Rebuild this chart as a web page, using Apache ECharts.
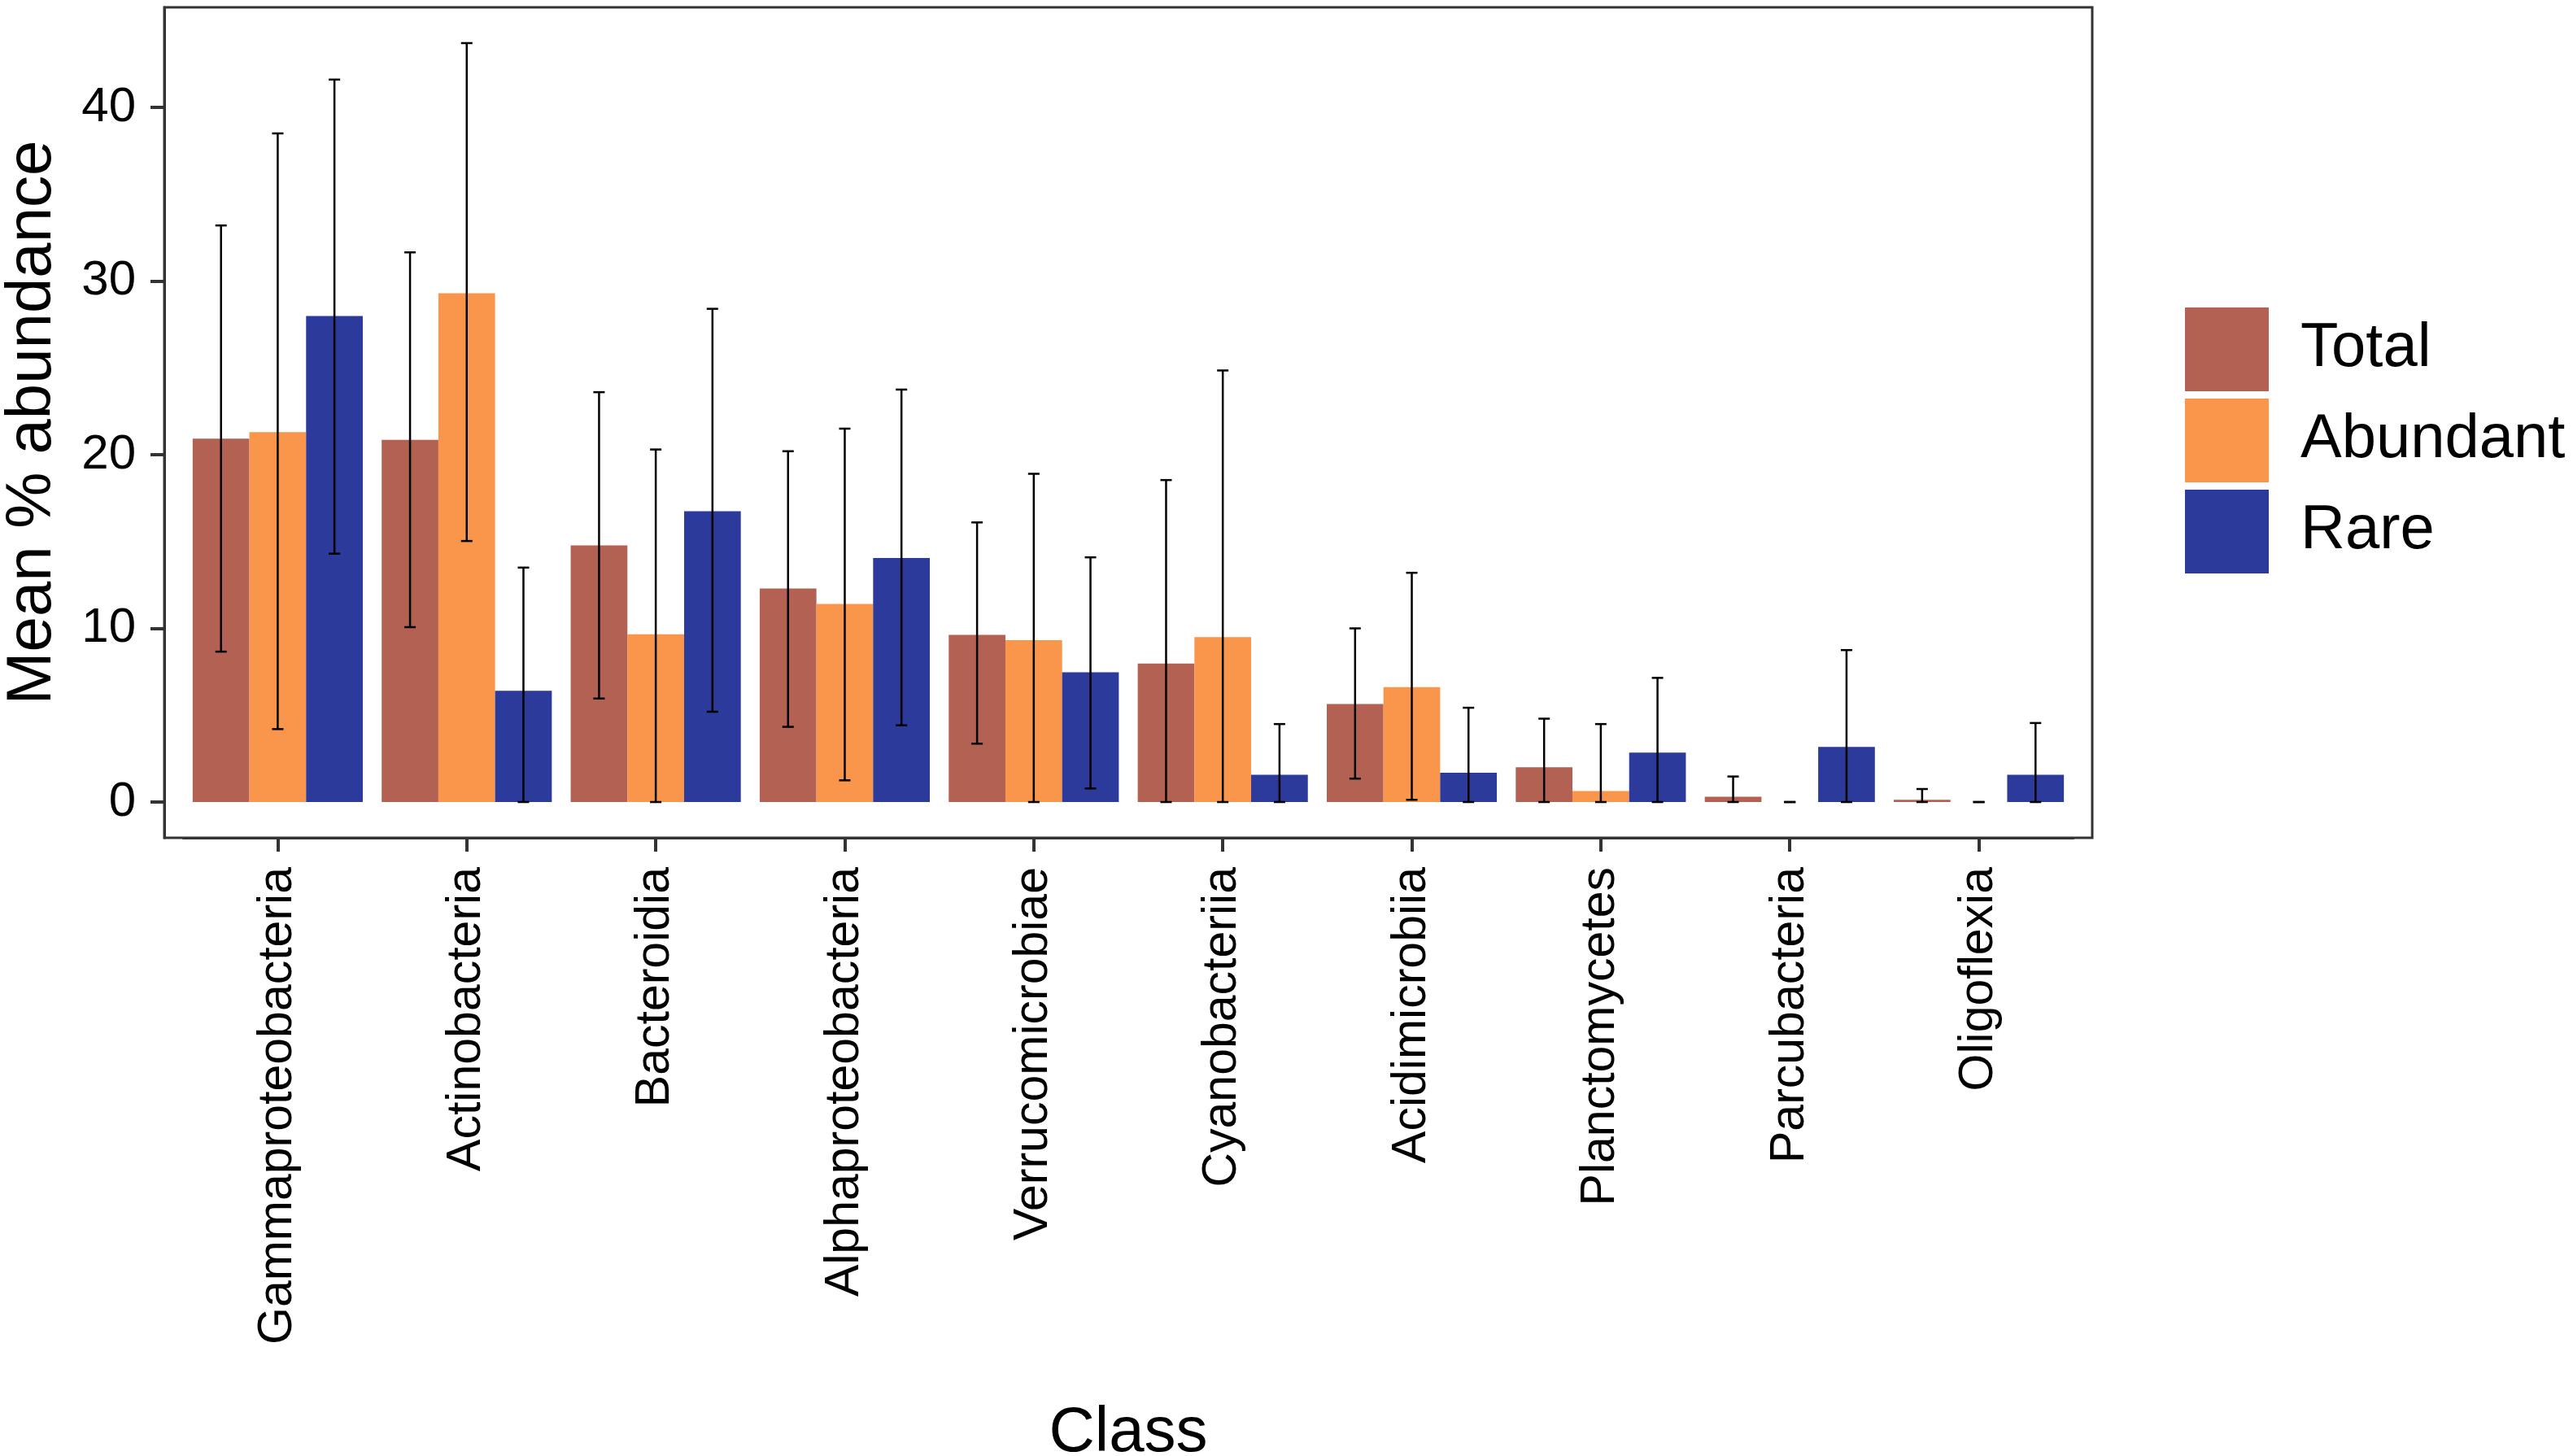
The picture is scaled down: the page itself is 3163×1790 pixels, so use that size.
<!DOCTYPE html>
<html>
<head>
<meta charset="utf-8">
<script src="https://cdn.jsdelivr.net/npm/echarts@6/dist/echarts.min.js"></script>
<style>
  html, body { margin: 0; padding: 0; background: #fff; }
  #chart { width: 3163px; height: 1790px; }
</style>
</head>
<body>
<div id="chart"></div>
<script>
// classes in plot order
var categories = ['Gammaproteobacteria', 'Actinobacteria', 'Bacteroidia', 'Alphaproteobacteria',
  'Verrucomicrobiae', 'Cyanobacteriia', 'Acidimicrobiia', 'Planctomycetes', 'Parcubacteria', 'Oligoflexia'];
var seriesNames = ['Total', 'Abundant', 'Rare'];
var yTicks = [0, 10, 20, 30, 40];

// mean % abundance and error bar ends (lower end clipped at 0)
var total      = [20.93, 20.86, 14.78, 12.3, 9.63, 7.97, 5.65, 2.0, 0.31, 0.13];
var totalLo    = [8.66, 10.07, 5.96, 4.33, 3.36, 0, 1.35, 0, 0, 0];
var totalHi    = [33.2, 31.65, 23.6, 20.2, 16.1, 18.54, 10.0, 4.8, 1.47, 0.75];
var abundant   = [21.3, 29.3, 9.66, 11.4, 9.32, 9.5, 6.62, 0.63, 0, 0];
var abundantLo = [4.2, 15.03, 0, 1.25, 0, 0, 0.13, 0, 0, 0];
var abundantHi = [38.5, 43.7, 20.3, 21.5, 18.9, 24.85, 13.2, 4.49, 0, 0];
var rare       = [27.98, 6.4, 16.75, 14.05, 7.47, 1.57, 1.69, 2.85, 3.17, 1.57];
var rareLo     = [14.3, 0, 5.2, 4.42, 0.78, 0, 0, 0, 0, 0];
var rareHi     = [41.6, 13.5, 28.4, 23.75, 14.09, 4.49, 5.43, 7.15, 8.75, 4.55];

var colors = ['#B36152', '#F9964B', '#2B3A9B'];
var FONT = "'Liberation Sans', Arial, Helvetica, sans-serif";

var yMin = -2.06, yMax = 45.76;   // panel limits incl. expansion
var panel = {left: 202, top: 9, width: 2370, height: 1021};
var padX = panel.width / 10.2 * 0.1; // ggplot discrete axis adds 0.6 of a band each side

// error bar rows: [category index, low, high, series index]
var errData = [];
[[totalLo, totalHi], [abundantLo, abundantHi], [rareLo, rareHi]].forEach(function (pair, s) {
    for (var i = 0; i < categories.length; i++) {
        errData.push([i, pair[0][i], pair[1][i], s]);
    }
});

function renderErr(params, api) {
    var cat = api.value(0), lo = api.value(1), hi = api.value(2), s = api.value(3);
    var band = api.size([1, 0])[0];
    var off = (s - 1) * band * 0.3;
    var pLo = api.coord([cat, lo]), pHi = api.coord([cat, hi]);
    var x = pLo[0] + off, cap = 7;
    var style = {stroke: '#000', lineWidth: 2.5};
    return {
        type: 'group',
        children: [
            {type: 'line', shape: {x1: x, y1: pLo[1], x2: x, y2: pHi[1]}, style: style},
            {type: 'line', shape: {x1: x - cap, y1: pHi[1], x2: x + cap, y2: pHi[1]}, style: style},
            {type: 'line', shape: {x1: x - cap, y1: pLo[1], x2: x + cap, y2: pLo[1]}, style: style}
        ]
    };
}

var chart = echarts.init(document.getElementById('chart'));
chart.setOption({
    animation: false,
    backgroundColor: '#fff',
    textStyle: {fontFamily: FONT},
    legend: {
        data: seriesNames,
        orient: 'vertical',
        left: 2681,
        top: 373,
        itemWidth: 103,
        itemHeight: 103,
        itemGap: 9,
        icon: 'rect',
        textStyle: {fontSize: 76, color: '#000', fontFamily: FONT, padding: [0, 0, 0, 34]}
    },
    grid: [
        {left: panel.left, top: panel.top, width: panel.width, height: panel.height,
         outerBoundsMode: 'none', containLabel: false,
         show: true, borderColor: '#333', borderWidth: 3, backgroundColor: '#fff'},
        {left: panel.left + padX, top: panel.top, width: panel.width - 2 * padX, height: panel.height,
         outerBoundsMode: 'none', containLabel: false}
    ],
    xAxis: [
        {gridIndex: 0, type: 'value', min: 0, max: 1, show: false},
        {
            gridIndex: 1, type: 'category', data: categories,
            name: 'Class', nameLocation: 'middle', nameGap: 693,
            nameTextStyle: {fontSize: 78, color: '#000', fontFamily: FONT},
            axisLine: {show: true, onZero: false, lineStyle: {color: '#333', width: 3}},
            axisTick: {show: true, alignWithLabel: true, length: 17, lineStyle: {color: '#333', width: 4}},
            axisLabel: {rotate: 90, margin: 36, fontSize: 59, color: '#000', fontFamily: FONT, interval: 0},
            splitLine: {show: false}
        }
    ],
    yAxis: [
        {
            gridIndex: 0, type: 'value', min: yMin, max: yMax,
            name: 'Mean % abundance', nameLocation: 'middle', nameGap: 123,
            nameTextStyle: {fontSize: 78, color: '#000', fontFamily: FONT},
            axisLine: {show: true, onZero: false, lineStyle: {color: '#333', width: 3}},
            axisTick: {show: true, length: 17, customValues: yTicks, lineStyle: {color: '#333', width: 4}},
            axisLabel: {margin: 35, fontSize: 60, color: '#000', fontFamily: FONT, customValues: yTicks},
            splitLine: {show: false}
        },
        {gridIndex: 1, type: 'value', min: yMin, max: yMax, show: false, splitLine: {show: false}}
    ],
    series: [
        {name: 'Total', type: 'bar', xAxisIndex: 1, yAxisIndex: 1, data: total,
         itemStyle: {color: colors[0]}, barGap: '0%', barCategoryGap: '10%'},
        {name: 'Abundant', type: 'bar', xAxisIndex: 1, yAxisIndex: 1, data: abundant,
         itemStyle: {color: colors[1]}, barGap: '0%', barCategoryGap: '10%'},
        {name: 'Rare', type: 'bar', xAxisIndex: 1, yAxisIndex: 1, data: rare,
         itemStyle: {color: colors[2]}, barGap: '0%', barCategoryGap: '10%'},
        {type: 'custom', xAxisIndex: 1, yAxisIndex: 1, data: errData,
         renderItem: renderErr, encode: {x: 0, y: [1, 2]}, z: 5, silent: true}
    ]
});
</script>
</body>
</html>
